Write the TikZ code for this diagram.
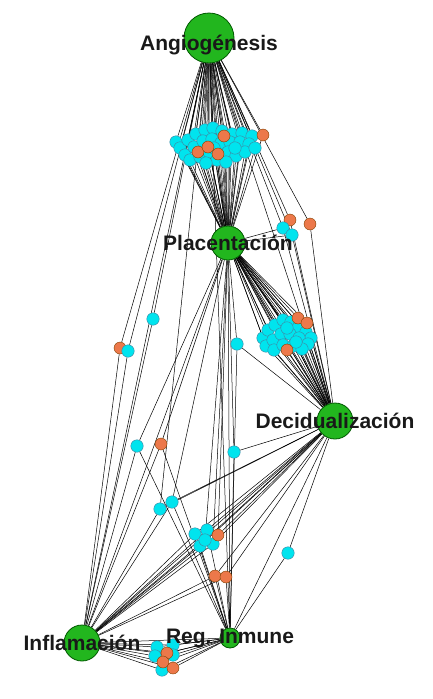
\documentclass[tikz,border=0pt]{standalone}
\usepackage{fontspec}
\setmainfont{Liberation Sans}
\definecolor{hubgreen}{RGB}{34,182,30}
\definecolor{genecyan}{RGB}{0,228,238}
\definecolor{geneorange}{RGB}{236,120,74}
\pgfdeclarelayer{edges}
\pgfsetlayers{edges,main}
\begin{document}
\begin{tikzpicture}[x=1pt,y=-1pt,
    hub/.style={circle,draw=green!35!black,line width=0.8pt,fill=hubgreen,inner sep=0pt,minimum size=#1},
    cyangene/.style={circle,draw=cyan!60!black,line width=0.4pt,fill=genecyan,inner sep=0pt,minimum size=12.5pt},
    orangegene/.style={circle,draw=orange!50!black,line width=0.4pt,fill=geneorange,inner sep=0pt,minimum size=12pt},
    hublabel/.style={font=\fontsize{21}{21}\selectfont\bfseries,text=black!90,inner sep=0pt},
    link/.style={line width=0.5pt,black}]
    \useasboundingbox (0,0) rectangle (433,699);

    % hubs
    \node[hub=50pt] (ANG) at (209,38) {};
    \node[hub=34pt] (PLA) at (228,243) {};
    \node[hub=36pt] (DEC) at (335,421) {};
    \node[hub=36pt] (INF) at (82,643) {};
    \node[hub=20pt] (REG) at (230,638) {};

    % cluster between Angiogenesis and Placentacion
    \foreach \x/\y [count=\i] in {176/142,180/148,188/140,196/134,205/130,213/128,222/131,232/134,
        242/133,252/136,185/155,194/147,203/141,212/139,221/143,230/142,240/142,249/144,
        190/160,200/157,209/152,217/160,228/152,236/156,245/152,206/163,226/162,255/148,
        214/148,235/148}
        \node[cyangene] (a\i) at (\x,\y) {};
    \foreach \x/\y [count=\i] in {224/136,263/135,198/152,208/147,218/154}
        \node[orangegene] (ao\i) at (\x,\y) {};

    % cluster between Placentacion and Decidualizacion
    \foreach \x/\y [count=\i] in {263/338,268/330,275/325,283/320,291/322,298/328,306/332,311/338,
        266/346,273/340,281/334,290/334,299/338,308/344,274/350,283/345,293/346,302/349,
        287/328,296/342}
        \node[cyangene] (b\i) at (\x,\y) {};
    \foreach \x/\y [count=\i] in {298/318,307/323,287/350}
        \node[orangegene] (bo\i) at (\x,\y) {};

    % cluster between Inflamacion and Reg. Inmune
    \foreach \x/\y [count=\i] in {157/647,173/645,155/656,173/655,162/670}
        \node[cyangene] (e\i) at (\x,\y) {};
    \foreach \x/\y [count=\i] in {167/653,163/662,173/668}
        \node[orangegene] (eo\i) at (\x,\y) {};

    % cluster in the lower middle
    \foreach \x/\y [count=\i] in {195/534,207/530,200/546,213/544,205/540}
        \node[cyangene] (d\i) at (\x,\y) {};
    \node[orangegene] (do1) at (218,535) {};

    % single genes
    \node[orangegene] (o1) at (290,220) {};
    \node[orangegene] (o2) at (310,224) {};
    \node[cyangene] (c1) at (283,228) {};
    \node[cyangene] (c2) at (292,235) {};
    \node[cyangene] (c3) at (153,319) {};
    \node[orangegene] (o3) at (120,348) {};
    \node[cyangene] (c4) at (128,351) {};
    \node[cyangene] (c5) at (237,344) {};
    \node[cyangene] (c6) at (137,446) {};
    \node[orangegene] (o4) at (161,444) {};
    \node[cyangene] (c7) at (234,452) {};
    \node[cyangene] (c8) at (160,509) {};
    \node[cyangene] (c9) at (172,502) {};
    \node[orangegene] (o5) at (215,576) {};
    \node[orangegene] (o6) at (226,577) {};
    \node[cyangene] (c10) at (288,553) {};

    \begin{pgfonlayer}{edges}
        \foreach \i in {1,...,30} \draw[link] (ANG) -- (a\i) -- (PLA);
        \foreach \i in {1,...,5} \draw[link] (ANG) -- (ao\i) -- (PLA);
        \foreach \i in {1,...,20} \draw[link] (PLA) -- (b\i) -- (DEC);
        \foreach \i in {1,2,3} \draw[link] (PLA) -- (bo\i) -- (DEC);
        \foreach \i in {1,...,5} \draw[link] (INF) -- (e\i) -- (REG);
        \foreach \i in {1,2,3} \draw[link] (INF) -- (eo\i) -- (REG);
        \foreach \n in {d1,d2,d3,d4,d5,do1} \draw[link] (DEC) -- (\n) -- (INF);
        \foreach \n in {d1,d2,d3} \draw[link] (\n) -- (REG);
        \foreach \n in {d4,d5,do1} \draw[link] (\n) -- (PLA);
        \foreach \n in {o1,o2} \draw[link] (ANG) -- (\n) -- (DEC);
        \foreach \n in {c1,c2} \draw[link] (ANG) -- (\n) -- (DEC) (\n) -- (PLA);
        \foreach \n in {c3,o3,c4} \draw[link] (ANG) -- (\n) -- (INF);
        \foreach \n in {c6,o4} \draw[link] (PLA) -- (\n) -- (INF) (\n) -- (REG);
        \foreach \n in {c5,c7} \draw[link] (PLA) -- (\n) -- (DEC) (\n) -- (REG);
        \draw[link] (ANG) -- (c8) -- (INF) (c8) -- (DEC);
        \draw[link] (PLA) -- (c9) -- (INF) (c9) -- (REG) (c9) -- (DEC);
        \foreach \n in {o5,o6} \draw[link] (DEC) -- (\n) -- (INF) (\n) -- (REG);
        \draw[link] (DEC) -- (c10) -- (REG);
        % hub to hub
        \draw[link] (ANG) -- (PLA) (ANG) -- (DEC) (ANG) -- (INF) (ANG) -- (REG)
            (PLA) -- (DEC) (PLA) -- (INF) (PLA) -- (REG)
            (DEC) -- (INF) (DEC) -- (REG) (INF) -- (REG);
    \end{pgfonlayer}

    % labels
    \node[hublabel] at ([yshift=-7pt]ANG) {Angiogénesis};
    \node[hublabel] at (PLA) {Placentación};
    \node[hublabel] at (DEC) {Decidualización};
    \node[hublabel] at (INF) {Inflamación};
    \node[hublabel] at (REG) {Reg. Inmune};
\end{tikzpicture}
\end{document}
